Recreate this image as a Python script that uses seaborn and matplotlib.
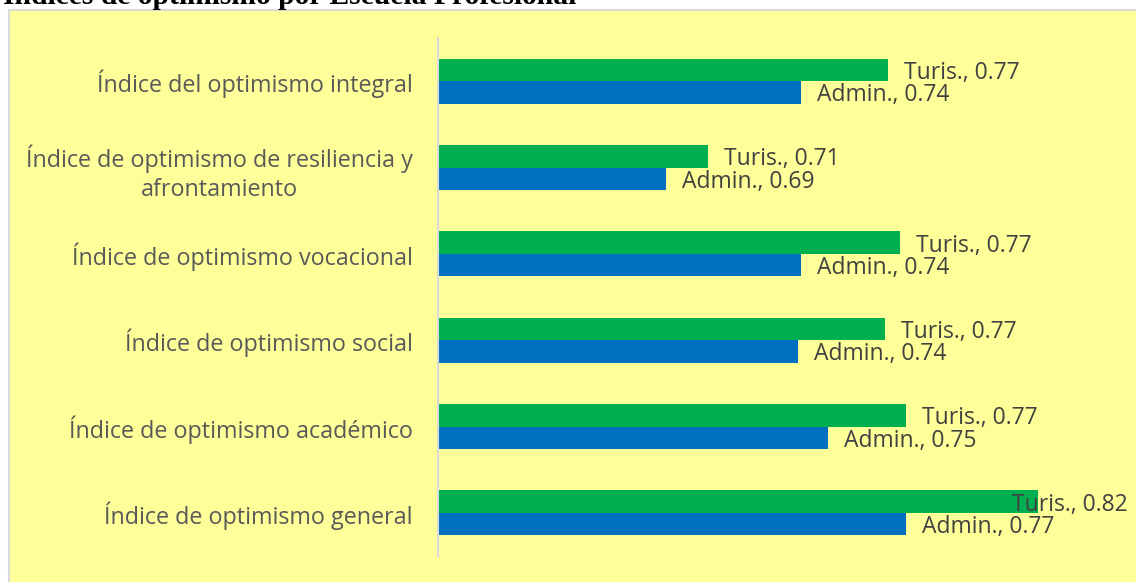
import matplotlib
matplotlib.use("Agg")
import matplotlib.pyplot as plt
import seaborn as sns
import pandas as pd
from matplotlib.patches import Rectangle

categories = [
    "Índice del optimismo integral",
    "Índice de optimismo de resiliencia y\nafrontamiento",
    "Índice de optimismo vocacional",
    "Índice de optimismo social",
    "Índice de optimismo académico",
    "Índice de optimismo general",
]
series_names = ["Turis.", "Admin."]
turis_values = [0.766, 0.706, 0.770, 0.765, 0.772, 0.816]
admin_values = [0.737, 0.692, 0.737, 0.736, 0.746, 0.772]
title = "Índices de optimismo por Escuela Profesional"

df = pd.DataFrame({
    "cat": categories * 2,
    "serie": [series_names[0]] * len(categories) + [series_names[1]] * len(categories),
    "val": turis_values + admin_values,
})

sns.set_theme(style="white")
plt.rcParams["font.family"] = ["Open Sans", "DejaVu Sans"]

W, H = 1136, 582
fig = plt.figure(figsize=(W / 100, H / 100), dpi=100, facecolor="white")

# yellow chart area with gray border
bg = Rectangle((8.5 / W, -0.01), 1.02, 1 - 9.5 / H + 0.01, transform=fig.transFigure,
               facecolor="#FFFF99", edgecolor="#D9D9D9", linewidth=1.5, zorder=-10)
fig.add_artist(bg)

fig.text(3 / W, 1 - 4.5 / H, title, fontfamily="Liberation Serif", fontweight="bold",
         fontsize=21.3, va="baseline", ha="left", color="black")

ax_left, ax_right = 438 / W, 1120 / W
ax_top, ax_bottom = 1 - 38 / H, 1 - 556 / H
ax = fig.add_axes([ax_left, ax_bottom, ax_right - ax_left, ax_top - ax_bottom])
ax.set_facecolor("none")
ax.set_zorder(1)

palette = {"Turis.": "#00B050", "Admin.": "#0070C0"}
sns.barplot(data=df, y="cat", x="val", hue="serie", order=categories, hue_order=series_names,
            palette=palette, width=0.52, orient="h", ax=ax, legend=False, saturation=1,
            edgecolor="none", linewidth=0)

ax.set_xlim(0.616, 0.616 + 682 / 3000)
ax.set_ylim(5.5, -0.5)
for s in ["top", "right", "bottom"]:
    ax.spines[s].set_visible(False)
ax.spines["left"].set_color("#D9D9D9")
ax.spines["left"].set_linewidth(1.5)
ax.set_xticks([])
ax.set_xlabel("")
ax.set_ylabel("")
ax.tick_params(axis="y", length=0, pad=18)
for lbl in ax.get_yticklabels():
    lbl.set_fontsize(16.8)
    lbl.set_color("#595959")
    lbl.set_multialignment("center")
    lbl.set_linespacing(1.28)

texts = []
for cont, name in zip(ax.containers, series_names):
    for bar in cont:
        v = bar.get_width()
        yc = bar.get_y() + bar.get_height() / 2
        t = ax.annotate(f"{name}, {v:.2f}", xy=(v, yc), xytext=(16, -3), textcoords="offset pixels",
                        va="center", ha="left", fontsize=16.5, color="#404040", annotation_clip=False)
        texts.append(t)

fig.canvas.draw()
r = fig.canvas.get_renderer()
for t in texts:
    bb = t.get_window_extent(r)
    if bb.x1 > 1128:
        dx = bb.x1 - 1128
        ox, oy = t.xyann
        t.xyann = (ox - dx, oy)

fig.savefig("out.png", dpi=100, facecolor="white")
